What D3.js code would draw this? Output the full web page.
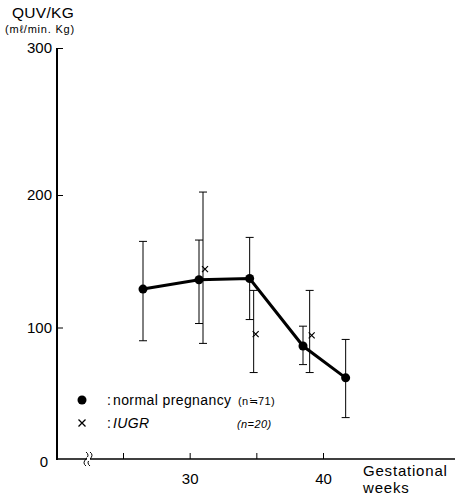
<!DOCTYPE html>
<html>
<head>
<meta charset="utf-8">
<script src="https://cdn.jsdelivr.net/npm/d3@7"></script>
<style>
  body { margin: 0; background: #fff; }
  svg { font-family: "Liberation Sans", Arial, sans-serif; }
</style>
</head>
<body>
<div id="chart"></div>
<script>
const width = 455;
const height = 500;

// normal pregnancy: week, mean, sd-low, sd-high
const normalWeeks = [26.5, 30.7, 34.5, 38.5, 41.7];
const normalMean = [129, 136, 137, 86, 62];
const normalLow = [90, 103, 106, 72, 32];
const normalHigh = [165, 166, 168, 101, 91];

// IUGR
const iugrWeeks = [31.0, 34.8, 39.0];
const iugrMean = [144, 95, 94];
const iugrLow = [88, 66, 66];
const iugrHigh = [202, 128, 128];

const yTicks = [0, 100, 200, 300];
const xTicks = [25, 30, 35, 40];
const xLabels = { 30: "30", 40: "40" };

const svg = d3.select("#chart").append("svg")
  .attr("width", width)
  .attr("height", height);

// the printed axis is not quite even at the top, so a piecewise scale
const y = d3.scaleLinear().domain([0, 200, 300]).range([460, 195, 48]);
const x = d3.scaleLinear().domain([25, 40]).range([123, 323]);

// y axis
const yAxis = svg.append("g")
  .attr("transform", "translate(57,0)")
  .call(d3.axisLeft(y).tickValues(yTicks).tickSize(-6).tickPadding(5));
yAxis.select(".domain").attr("stroke-width", 2).attr("d", "M0,48V460");
yAxis.selectAll("text")
  .style("font-size", "15px").style("font-family", "'Liberation Sans Narrow', 'Liberation Sans', sans-serif")
  .attr("fill", "#000");
yAxis.selectAll(".tick").filter(d => d === 0).select("line").remove();
yAxis.selectAll(".tick").filter(d => d === 0).select("text").attr("x", -9).attr("dy", "0.45em");

// x axis
const xAxis = svg.append("g")
  .attr("transform", "translate(0,459)")
  .call(d3.axisBottom(x).tickValues(xTicks).tickSize(-6).tickPadding(14)
    .tickFormat(d => xLabels[d] || ""));
xAxis.select(".domain").attr("stroke-width", 1.6).attr("d", "M57,0H455");
xAxis.selectAll("text")
  .style("font-size", "15px").style("font-family", "'Liberation Sans Narrow', 'Liberation Sans', sans-serif")
  .attr("fill", "#000");

// axis break mark
svg.append("path")
  .attr("d", "M86,452 q4,3 0,7 q-4,4 0,7 M90,452 q4,3 0,7 q-4,4 0,7")
  .attr("fill", "none").attr("stroke", "#000").attr("stroke-width", 1);
svg.append("rect").attr("x", 87).attr("y", 457).attr("width", 3).attr("height", 4).attr("fill", "#fff");

svg.append("text").attr("x", 363).attr("y", 476)
  .style("font-size", "15px").style("letter-spacing", "0.8px").text("Gestational");
svg.append("text").attr("x", 363).attr("y", 493)
  .style("font-size", "15px").style("letter-spacing", "0.8px").text("weeks");

// title
svg.append("text").attr("x", 12).attr("y", 18)
  .style("font-size", "15.5px").style("letter-spacing", "0.3px").text("QUV/KG");
svg.append("text").attr("x", 5).attr("y", 33)
  .style("font-size", "11px").style("letter-spacing", "0.8px").text("(mℓ/min. Kg)");

// error bars
function errorBars(weeks, low, high) {
  const g = svg.append("g").attr("stroke", "#000").attr("stroke-width", 1);
  weeks.forEach((w, i) => {
    const cx = x(w);
    g.append("line").attr("x1", cx).attr("x2", cx).attr("y1", y(low[i])).attr("y2", y(high[i]));
    g.append("line").attr("x1", cx - 4).attr("x2", cx + 4).attr("y1", y(low[i])).attr("y2", y(low[i]));
    g.append("line").attr("x1", cx - 4).attr("x2", cx + 4).attr("y1", y(high[i])).attr("y2", y(high[i]));
  });
}
errorBars(normalWeeks, normalLow, normalHigh);
errorBars(iugrWeeks, iugrLow, iugrHigh);

// normal line + dots
const line = d3.line().x(d => x(d[0])).y(d => y(d[1]));
svg.append("path")
  .datum(normalWeeks.map((w, i) => [w, normalMean[i]]))
  .attr("d", line)
  .attr("fill", "none").attr("stroke", "#000").attr("stroke-width", 3);

svg.selectAll(".dot")
  .data(normalWeeks.map((w, i) => [w, normalMean[i]]))
  .enter().append("circle")
  .attr("class", "dot")
  .attr("cx", d => x(d[0])).attr("cy", d => y(d[1])).attr("r", 4.5)
  .attr("fill", "#000");

// IUGR crosses
svg.selectAll(".cross")
  .data(iugrWeeks.map((w, i) => [w, iugrMean[i]]))
  .enter().append("path")
  .attr("class", "cross")
  .attr("transform", d => `translate(${x(d[0]) + 2},${y(d[1])})`)
  .attr("d", "M-3,-3L3,3M-3,3L3,-3")
  .attr("stroke", "#000").attr("stroke-width", 1.2);

// legend
const legend = svg.append("g").style("font-size", "14px").style("letter-spacing", "0.4px");
legend.append("circle").attr("cx", 82).attr("cy", 400).attr("r", 4.5).attr("fill", "#000");
legend.append("text").attr("x", 107).attr("y", 405).text(":");
legend.append("text").attr("x", 113).attr("y", 405).text("normal pregnancy");
legend.append("text").attr("x", 238).attr("y", 405).style("font-size", "11px").text("(n≒71)");
legend.append("path").attr("transform", "translate(82,423)")
  .attr("d", "M-3.5,-3.5L3.5,3.5M-3.5,3.5L3.5,-3.5")
  .attr("stroke", "#000").attr("stroke-width", 1.3);
legend.append("text").attr("x", 107).attr("y", 428).text(":");
legend.append("text").attr("x", 113).attr("y", 428).style("font-style", "italic").text("IUGR");
legend.append("text").attr("x", 237).attr("y", 428).style("font-size", "11px")
  .style("font-style", "italic").text("(n=20)");
</script>
</body>
</html>
